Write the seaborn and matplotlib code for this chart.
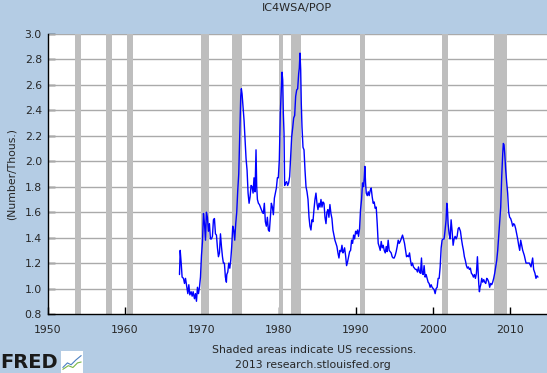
import matplotlib
matplotlib.use("Agg")
import matplotlib.pyplot as plt
import seaborn as sns
import pandas as pd

# 4-week avg initial claims / population
years = [
    1967.11, 1967.20, 1967.33, 1967.45, 1967.63, 1967.76, 1967.89, 1968.06, 1968.19, 1968.32,
    1968.45, 1968.62, 1968.75, 1968.88, 1969.05, 1969.18, 1969.31, 1969.44, 1969.57, 1969.70,
    1969.83, 1969.96, 1970.09, 1970.22, 1970.35, 1970.48, 1970.60, 1970.73, 1970.86, 1970.99,
    1971.12, 1971.25, 1971.38, 1971.51, 1971.64, 1971.77, 1971.90, 1972.03, 1972.16, 1972.29,
    1972.42, 1972.55, 1972.68, 1972.80, 1972.93, 1973.06, 1973.19,
    1973.24, 1973.37, 1973.50, 1973.63, 1973.75, 1973.88, 1974.01, 1974.14, 1974.27, 1974.40,
    1974.53, 1974.66, 1974.79, 1974.92, 1975.05, 1975.13, 1975.22, 1975.35, 1975.48, 1975.61,
    1975.74, 1975.87, 1976.00, 1976.13, 1976.26, 1976.39, 1976.52, 1976.65, 1976.77, 1976.90,
    1977.03, 1977.12, 1977.21, 1977.34, 1977.47, 1977.60, 1977.72, 1977.85, 1977.98, 1978.11,
    1978.24, 1978.37, 1978.50, 1978.63, 1978.76, 1978.89, 1979.02, 1979.15, 1979.28, 1979.41,
    1979.54, 1979.67, 1979.80, 1979.92, 1980.05, 1980.18, 1980.31, 1980.40, 1980.49, 1980.57,
    1980.66,
    1980.74, 1980.87, 1981.00, 1981.13, 1981.26, 1981.39, 1981.52, 1981.65, 1981.78, 1981.91,
    1982.04, 1982.17, 1982.30, 1982.43, 1982.56, 1982.64, 1982.73, 1982.82, 1982.90, 1982.99,
    1983.12, 1983.25, 1983.38, 1983.51, 1983.64, 1983.77, 1983.90, 1984.02, 1984.15, 1984.28,
    1984.41, 1984.54, 1984.67, 1984.80, 1984.93, 1985.06, 1985.19, 1985.32, 1985.45, 1985.58,
    1985.71, 1985.84, 1985.97, 1986.10, 1986.22, 1986.35, 1986.48, 1986.61, 1986.74, 1986.87,
    1987.00, 1987.13, 1987.26, 1987.39, 1987.52, 1987.65, 1987.78, 1987.91, 1988.04, 1988.17,
    1988.30,
    1988.38, 1988.51, 1988.64, 1988.77, 1988.90, 1989.03, 1989.16, 1989.29, 1989.42, 1989.55,
    1989.68, 1989.81, 1989.94, 1990.07, 1990.19, 1990.32, 1990.45, 1990.58, 1990.71, 1990.84,
    1990.97, 1991.06, 1991.14, 1991.23, 1991.32, 1991.45, 1991.58, 1991.70, 1991.83, 1991.96,
    1992.09, 1992.22, 1992.35, 1992.48, 1992.61, 1992.74, 1992.87, 1993.00, 1993.13, 1993.26,
    1993.39, 1993.52, 1993.65, 1993.78, 1993.91, 1994.03, 1994.16, 1994.29, 1994.42, 1994.55,
    1994.68, 1994.81, 1994.94, 1995.07, 1995.20, 1995.33, 1995.46, 1995.59, 1995.72, 1995.85,
    1996.02, 1996.15, 1996.28, 1996.41, 1996.54, 1996.67, 1996.80, 1996.93, 1997.06, 1997.18,
    1997.31, 1997.44, 1997.57, 1997.70, 1997.83, 1997.96, 1998.09, 1998.22, 1998.35, 1998.48,
    1998.57, 1998.70, 1998.82, 1998.95, 1999.08, 1999.21, 1999.34, 1999.47, 1999.60, 1999.73,
    1999.86, 1999.99, 2000.12, 2000.25, 2000.38, 2000.51, 2000.64, 2000.77, 2000.90, 2001.03,
    2001.15, 2001.28, 2001.41, 2001.54, 2001.67, 2001.76, 2001.84, 2001.93, 2002.06, 2002.19,
    2002.32, 2002.45, 2002.58, 2002.71, 2002.84, 2002.97, 2003.10, 2003.23, 2003.35,
    2003.53, 2003.66, 2003.79, 2003.92, 2004.04, 2004.17, 2004.30, 2004.43, 2004.56, 2004.69,
    2004.82, 2004.95, 2005.08, 2005.21, 2005.34, 2005.47, 2005.60, 2005.73, 2005.81, 2005.90,
    2005.99, 2006.07, 2006.16, 2006.29, 2006.42, 2006.55, 2006.68, 2006.81, 2006.94, 2007.07,
    2007.20, 2007.32, 2007.45, 2007.58, 2007.71, 2007.84, 2007.97, 2008.10, 2008.23, 2008.36,
    2008.49, 2008.62, 2008.75, 2008.88, 2009.01, 2009.09, 2009.18, 2009.27, 2009.40, 2009.53,
    2009.65, 2009.78, 2009.91, 2010.04, 2010.17, 2010.30, 2010.43, 2010.56, 2010.69, 2010.82,
    2010.95, 2011.08, 2011.21, 2011.34,
    2011.60, 2011.81, 2012.03, 2012.24, 2012.46, 2012.68, 2012.89, 2013.02, 2013.19, 2013.32,
    2013.45, 2013.58,
]
claims_per_pop = [
    1.11, 1.30, 1.20, 1.09, 1.08, 1.04, 1.08, 1.01, 0.96, 1.03,
    0.95, 0.975, 0.94, 0.975, 0.92, 0.96, 0.90, 1.01, 0.96, 1.01,
    1.09, 1.26, 1.37, 1.59, 1.51, 1.38, 1.60, 1.56, 1.45, 1.51,
    1.39, 1.39, 1.41, 1.54, 1.55, 1.43, 1.42, 1.32, 1.25, 1.28,
    1.43, 1.33, 1.25, 1.20, 1.20, 1.09, 1.05,
    1.11, 1.13, 1.20, 1.16, 1.22, 1.33, 1.49, 1.46, 1.38, 1.51,
    1.60, 1.77, 1.90, 2.19, 2.51, 2.57, 2.53, 2.42, 2.32, 2.17,
    2.02, 1.93, 1.75, 1.67, 1.72, 1.81, 1.80, 1.75, 1.87, 1.76,
    2.09, 1.80, 1.70, 1.67, 1.66, 1.64, 1.62, 1.60, 1.59, 1.67,
    1.525, 1.49, 1.56, 1.46, 1.45, 1.56, 1.67, 1.64, 1.58, 1.71,
    1.75, 1.79, 1.87, 1.87, 2.01, 2.38, 2.56, 2.70, 2.64, 2.38,
    2.22,
    1.81, 1.83, 1.84, 1.81, 1.83, 1.88, 2.04, 2.19, 2.26, 2.34,
    2.36, 2.51, 2.56, 2.57, 2.69, 2.73, 2.85, 2.72, 2.45, 2.27,
    2.11, 2.09, 1.93, 1.80, 1.76, 1.70, 1.56, 1.49, 1.46, 1.54,
    1.525, 1.62, 1.70, 1.75, 1.67, 1.62, 1.67, 1.64, 1.70, 1.64,
    1.68, 1.67, 1.56, 1.51, 1.60, 1.62, 1.56, 1.66, 1.59, 1.55,
    1.46, 1.42, 1.38, 1.355, 1.33, 1.28, 1.24, 1.30, 1.29, 1.34,
    1.28,
    1.29, 1.32, 1.26, 1.18, 1.21, 1.25, 1.29, 1.30, 1.38, 1.355,
    1.42, 1.39, 1.45, 1.43, 1.46, 1.41, 1.47, 1.62, 1.70, 1.83,
    1.80, 1.87, 1.96, 1.83, 1.75, 1.73, 1.76, 1.73, 1.77, 1.79,
    1.72, 1.67, 1.68, 1.63, 1.64, 1.51, 1.355, 1.33, 1.30, 1.37,
    1.32, 1.34, 1.30, 1.28, 1.33, 1.29, 1.38, 1.30, 1.29, 1.28,
    1.25, 1.24, 1.24, 1.26, 1.29, 1.33, 1.38, 1.355, 1.37, 1.39,
    1.42, 1.39, 1.355, 1.30, 1.25, 1.26, 1.25, 1.28, 1.22, 1.18,
    1.20, 1.17, 1.16, 1.15, 1.15, 1.13, 1.17, 1.13, 1.12, 1.24,
    1.12, 1.11, 1.18, 1.09, 1.11, 1.08, 1.05, 1.04, 1.01, 1.03,
    1.01, 1.00, 0.99, 0.96, 1.00, 1.01, 1.08, 1.08, 1.17, 1.32,
    1.38, 1.39, 1.39, 1.46, 1.54, 1.67, 1.63, 1.51, 1.43, 1.39,
    1.54, 1.45, 1.34, 1.39, 1.41, 1.39, 1.41, 1.47, 1.48,
    1.45, 1.39, 1.34, 1.30, 1.25, 1.22, 1.18, 1.16, 1.17, 1.15,
    1.16, 1.12, 1.11, 1.09, 1.11, 1.08, 1.12, 1.25, 1.15, 1.04,
    0.975, 1.01, 1.03, 1.08, 1.05, 1.07, 1.05, 1.04, 1.08, 1.07,
    1.05, 1.01, 1.04, 1.03, 1.05, 1.08, 1.12, 1.17, 1.22, 1.30,
    1.41, 1.51, 1.64, 1.88, 2.06, 2.14, 2.13, 2.06, 1.93, 1.83,
    1.75, 1.60, 1.56, 1.55, 1.525, 1.49, 1.51, 1.50, 1.47, 1.43,
    1.39, 1.34, 1.30, 1.38,
    1.30, 1.26, 1.20, 1.20, 1.20, 1.17, 1.24, 1.15, 1.12, 1.08,
    1.10, 1.09,
]

# NBER recessions (decimal years)
rec_start = [1953.55, 1957.6, 1960.3, 1969.92, 1973.88, 1980.0, 1981.5, 1990.5, 2001.2, 2007.92]
rec_end = [1954.4, 1958.3, 1961.1, 1970.9, 1975.2, 1980.52, 1982.9, 1991.2, 2001.88, 2009.5]

df = pd.DataFrame({"year": years, "value": claims_per_pop})

bg = "#b4cce4"
sns.set_style("white")
plt.rcParams["font.family"] = ["DejaVu Sans"]

fig = plt.figure(figsize=(5.47, 3.73), dpi=100, facecolor=bg)
ax = fig.add_axes([47.5 / 547, 59 / 373, 1 - 47.5 / 547, 280 / 373])
ax.set_facecolor("white")

# recession bars sit above the grid
for s, e in zip(rec_start, rec_end):
    ax.axvspan(s, e, color="#bebebe", lw=0, zorder=2)

ax.set_ylim(0.8, 3.0)
ax.set_xlim(1950, 2014.75)
yt = [0.8 + 0.2 * i for i in range(12)]
ax.set_yticks(yt)
ax.set_yticklabels([f"{v:.1f}" for v in yt])
ax.set_xticks(list(range(1950, 2011, 10)))
for v in yt[1:]:
    ax.axhline(v, color="#aaaaaa", lw=1, zorder=1)

sns.lineplot(data=df, x="year", y="value", ax=ax, color="#0000ff", lw=1,
             estimator=None, sort=False, zorder=3)

for side in ["top", "right"]:
    ax.spines[side].set_visible(False)
for side in ["left", "bottom"]:
    ax.spines[side].set_color("black")
    ax.spines[side].set_linewidth(1)
    ax.spines[side].set_zorder(4)
ax.tick_params(direction="in", length=5, width=1, color="black",
               labelsize=7.8, bottom=True, left=True)
ax.tick_params(axis="x", pad=8)
ax.tick_params(axis="y", pad=4)
ax.set_xlabel("")
ax.set_ylabel("(Number/Thous.)", fontsize=7.8, labelpad=6)

fig.text(297 / 547, 1 - 8 / 373, "IC4WSA/POP", ha="center", va="center", fontsize=8)
fig.text(314 / 547, 1 - 350 / 373, "Shaded areas indicate US recessions.",
         ha="center", va="center", fontsize=7.8)
fig.text(313 / 547, 1 - 365 / 373, "2013 research.stlouisfed.org",
         ha="center", va="center", fontsize=7.8)

# FRED logo
fig.text(0, 1 - 363 / 373, "FRED", ha="left", va="center",
         fontsize=14, fontweight="bold", color="#1a1a1a")
logo = fig.add_axes([61 / 547, 0.0, 22 / 547, 22 / 373])
logo.set_facecolor("white")
logo.plot([0, 0.25, 0.45, 0.7, 1.0], [0.2, 0.45, 0.35, 0.6, 0.85], color="#4a7fc0", lw=0.8)
logo.plot([0, 0.3, 0.55, 0.8, 1.0], [0.1, 0.3, 0.2, 0.45, 0.5], color="#7ab648", lw=0.8)
logo.set_xlim(-0.1, 1.1)
logo.set_ylim(-0.1, 1.1)
logo.set_xticks([])
logo.set_yticks([])
for sp in logo.spines.values():
    sp.set_visible(False)

fig.savefig("out.png", dpi=100, facecolor=bg)
